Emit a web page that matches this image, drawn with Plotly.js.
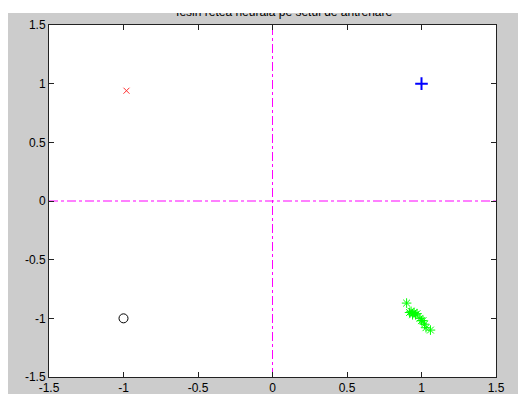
<!DOCTYPE html>
<html>
<head>
<meta charset="utf-8">
<script src="https://cdn.plot.ly/plotly-3.0.1.min.js"></script>
<style>
html,body{margin:0;padding:0;background:#fff;}
#wrap{position:relative;width:518px;height:394px;overflow:hidden;}
#plot{position:absolute;left:0;top:0;width:518px;height:394px;}
#maskTop{position:absolute;left:0;top:0;width:518px;height:13px;background:#fff;}
#maskLeft{position:absolute;left:0;top:0;width:8px;height:394px;background:#fff;}
</style>
</head>
<body>
<div id="wrap">
<div id="plot"></div>
<div id="maskTop"></div>
<div id="maskLeft"></div>
</div>
<script>
// Data
const titleText = "Iesiri retea neurala pe setul de antrenare";
const tickVals = [-1.5, -1, -0.5, 0, 0.5, 1, 1.5];
const tickText = ["-1.5", "-1", "-0.5", "0", "0.5", "1", "1.5"];

const redX = [-0.98];
const redY = [0.94];

const blueX = [1.0];
const blueY = [1.0];

const blackX = [-1.0];
const blackY = [-1.0];

const greenX = [0.90, 0.92, 0.93, 0.94, 0.95, 0.94, 0.96, 0.97, 0.99, 1.00, 1.01, 1.02, 1.03, 1.06];
const greenY = [-0.87, -0.95, -0.94, -0.96, -0.95, -0.97, -0.97, -0.96, -1.00, -1.02, -1.02, -1.05, -1.08, -1.10];

const axisRange = [-1.5, 1.5];
const zeroLineX = [0, 0];
const zeroLineY = [-1.5, 1.5];

const traces = [
  {x: zeroLineX, y: zeroLineY, mode: "lines", line: {color: "#ff00ff", width: 1, dash: "dashdot"}, hoverinfo: "skip"},
  {x: zeroLineY, y: zeroLineX, mode: "lines", line: {color: "#ff00ff", width: 1, dash: "dashdot"}, hoverinfo: "skip"},
  {x: redX, y: redY, mode: "markers", marker: {symbol: "x-thin-open", size: 6, color: "#ff3030", line: {color: "#ff3030", width: 1}}},
  {x: blueX, y: blueY, mode: "markers", marker: {symbol: "cross-thin-open", size: 9, color: "#0000ff", line: {color: "#0000ff", width: 2}}},
  {x: blackX, y: blackY, mode: "markers", marker: {symbol: "circle-open", size: 9, color: "#000", line: {color: "#000", width: 1}}},
  {x: greenX, y: greenY, mode: "markers", marker: {symbol: "asterisk-open", size: 8, color: "#00ff00", line: {color: "#00ff00", width: 1}}}
];

const axisCommon = {
  range: axisRange,
  tickvals: tickVals,
  ticktext: tickText,
  ticks: "inside",
  ticklen: 5,
  tickwidth: 1,
  tickcolor: "#222",
  showline: true,
  linecolor: "#222",
  linewidth: 1,
  mirror: "ticks",
  showgrid: false,
  zeroline: false,
  tickfont: {family: "Liberation Sans, Arial, sans-serif", size: 12, color: "#000"}
};

const layout = {
  width: 518,
  height: 394,
  paper_bgcolor: "#cccccc",
  plot_bgcolor: "#ffffff",
  showlegend: false,
  margin: {l: 49, r: 22, t: 25, b: 17, pad: 0},
  title: {
    text: titleText,
    font: {family: "Liberation Sans, Arial, sans-serif", size: 12, color: "#000"},
    x: 0.526, xref: "paper", xanchor: "center",
    y: 1 - 11.5/394, yref: "container", yanchor: "middle"
  },
  xaxis: Object.assign({}, axisCommon, {ticklabelstandoff: 0}),
  yaxis: Object.assign({}, axisCommon)
};

Plotly.newPlot("plot", traces, layout, {displayModeBar: false, staticPlot: true});
</script>
</body>
</html>
